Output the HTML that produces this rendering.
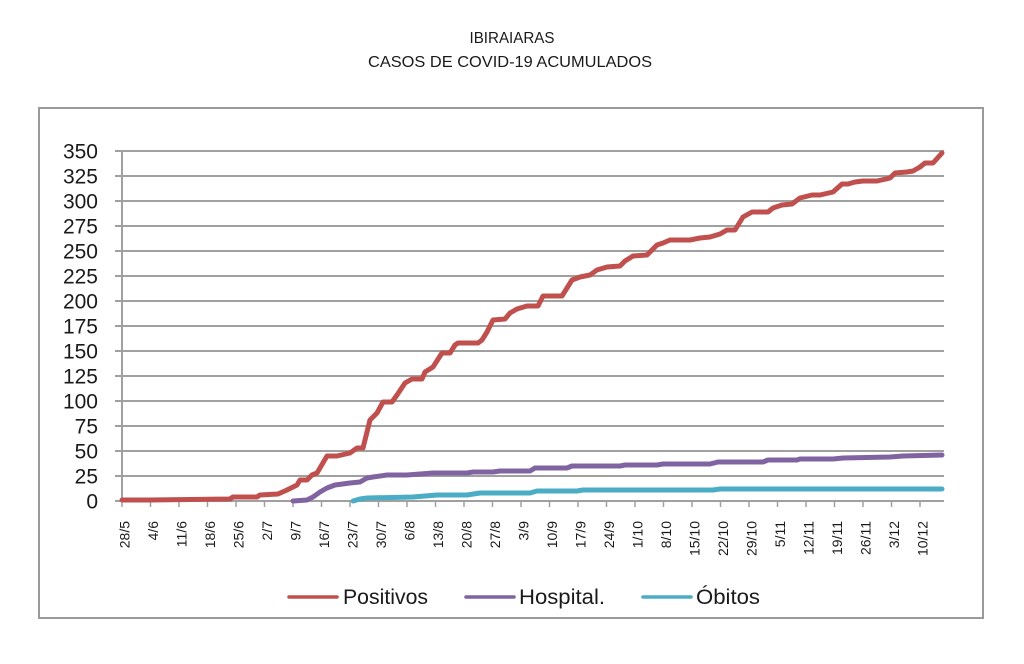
<!DOCTYPE html>
<html><head><meta charset="utf-8"><style>
html,body{margin:0;padding:0;background:#fff;}
svg{display:block;}
text{font-family:"Liberation Sans",sans-serif;fill:#1a1a1a;}
</style></head><body>
<svg width="1024" height="664" viewBox="0 0 1024 664" xmlns="http://www.w3.org/2000/svg">
<rect x="0" y="0" width="1024" height="664" fill="#fff"/>
<text x="512" y="43" font-size="15.5" text-anchor="middle" textLength="85" lengthAdjust="spacingAndGlyphs">IBIRAIARAS</text>
<text x="510" y="67" font-size="16" text-anchor="middle" textLength="284" lengthAdjust="spacingAndGlyphs">CASOS DE COVID-19 ACUMULADOS</text>
<rect x="39" y="108" width="944" height="510" fill="none" stroke="#9a9a9a" stroke-width="2"/>
<g stroke="#a0a0a0" stroke-width="2" fill="none">
<line x1="115" y1="151" x2="944" y2="151"/>
<line x1="115" y1="176" x2="944" y2="176"/>
<line x1="115" y1="201" x2="944" y2="201"/>
<line x1="115" y1="226" x2="944" y2="226"/>
<line x1="115" y1="251" x2="944" y2="251"/>
<line x1="115" y1="276" x2="944" y2="276"/>
<line x1="115" y1="301" x2="944" y2="301"/>
<line x1="115" y1="326" x2="944" y2="326"/>
<line x1="115" y1="351" x2="944" y2="351"/>
<line x1="115" y1="376" x2="944" y2="376"/>
<line x1="115" y1="401" x2="944" y2="401"/>
<line x1="115" y1="426" x2="944" y2="426"/>
<line x1="115" y1="451" x2="944" y2="451"/>
<line x1="115" y1="476" x2="944" y2="476"/>
<line x1="115" y1="501" x2="944" y2="501"/>
<line x1="122" y1="151" x2="122" y2="501"/>
</g>
<g font-size="21" text-anchor="end">
<text x="98" y="158.5">350</text>
<text x="98" y="183.5">325</text>
<text x="98" y="208.5">300</text>
<text x="98" y="233.5">275</text>
<text x="98" y="258.5">250</text>
<text x="98" y="283.5">225</text>
<text x="98" y="308.5">200</text>
<text x="98" y="333.5">175</text>
<text x="98" y="358.5">150</text>
<text x="98" y="383.5">125</text>
<text x="98" y="408.5">100</text>
<text x="98" y="433.5">75</text>
<text x="98" y="458.5">50</text>
<text x="98" y="483.5">25</text>
<text x="98" y="508.5">0</text>
</g>
<g stroke="#a0a0a0" stroke-width="1.5">
<line x1="122" y1="501" x2="122" y2="507"/><line x1="150.5" y1="501" x2="150.5" y2="507"/><line x1="179" y1="501" x2="179" y2="507"/><line x1="207.5" y1="501" x2="207.5" y2="507"/><line x1="236" y1="501" x2="236" y2="507"/><line x1="264.5" y1="501" x2="264.5" y2="507"/><line x1="293" y1="501" x2="293" y2="507"/><line x1="321.5" y1="501" x2="321.5" y2="507"/><line x1="350" y1="501" x2="350" y2="507"/><line x1="378.5" y1="501" x2="378.5" y2="507"/><line x1="407" y1="501" x2="407" y2="507"/><line x1="435.5" y1="501" x2="435.5" y2="507"/><line x1="464" y1="501" x2="464" y2="507"/><line x1="492.5" y1="501" x2="492.5" y2="507"/><line x1="521" y1="501" x2="521" y2="507"/><line x1="549.5" y1="501" x2="549.5" y2="507"/><line x1="578" y1="501" x2="578" y2="507"/><line x1="606.5" y1="501" x2="606.5" y2="507"/><line x1="635" y1="501" x2="635" y2="507"/><line x1="663.5" y1="501" x2="663.5" y2="507"/><line x1="692" y1="501" x2="692" y2="507"/><line x1="720.5" y1="501" x2="720.5" y2="507"/><line x1="749" y1="501" x2="749" y2="507"/><line x1="777.5" y1="501" x2="777.5" y2="507"/><line x1="806" y1="501" x2="806" y2="507"/><line x1="834.5" y1="501" x2="834.5" y2="507"/><line x1="863" y1="501" x2="863" y2="507"/><line x1="891.5" y1="501" x2="891.5" y2="507"/><line x1="920" y1="501" x2="920" y2="507"/>
</g>
<g font-size="14" text-anchor="end">
<text transform="translate(129.5,521) rotate(-90)">28/5</text>
<text transform="translate(158,521) rotate(-90)">4/6</text>
<text transform="translate(186.5,521) rotate(-90)">11/6</text>
<text transform="translate(215,521) rotate(-90)">18/6</text>
<text transform="translate(243.5,521) rotate(-90)">25/6</text>
<text transform="translate(272,521) rotate(-90)">2/7</text>
<text transform="translate(300.5,521) rotate(-90)">9/7</text>
<text transform="translate(329,521) rotate(-90)">16/7</text>
<text transform="translate(357.5,521) rotate(-90)">23/7</text>
<text transform="translate(386,521) rotate(-90)">30/7</text>
<text transform="translate(414.5,521) rotate(-90)">6/8</text>
<text transform="translate(443,521) rotate(-90)">13/8</text>
<text transform="translate(471.5,521) rotate(-90)">20/8</text>
<text transform="translate(500,521) rotate(-90)">27/8</text>
<text transform="translate(528.5,521) rotate(-90)">3/9</text>
<text transform="translate(557,521) rotate(-90)">10/9</text>
<text transform="translate(585.5,521) rotate(-90)">17/9</text>
<text transform="translate(614,521) rotate(-90)">24/9</text>
<text transform="translate(642.5,521) rotate(-90)">1/10</text>
<text transform="translate(671,521) rotate(-90)">8/10</text>
<text transform="translate(699.5,521) rotate(-90)">15/10</text>
<text transform="translate(728,521) rotate(-90)">22/10</text>
<text transform="translate(756.5,521) rotate(-90)">29/10</text>
<text transform="translate(785,521) rotate(-90)">5/11</text>
<text transform="translate(813.5,521) rotate(-90)">12/11</text>
<text transform="translate(842,521) rotate(-90)">19/11</text>
<text transform="translate(870.5,521) rotate(-90)">26/11</text>
<text transform="translate(899,521) rotate(-90)">3/12</text>
<text transform="translate(927.5,521) rotate(-90)">10/12</text>
</g>
<g fill="none" stroke-width="5" stroke-linejoin="round" stroke-linecap="round">
<polyline stroke="#4BACC6" points="353,501 360,499 367,498 413,497 437,495 467,495 480,493 530,493 537,491 577,491 583,490 713,490 720,489 942,489"/>
<polyline stroke="#8064A2" points="293,501 307,500 313,497 320,492 327,488 335,485 350,483 360,482 367,478 373,477 387,475 407,475 433,473 467,473 473,472 493,472 500,471 530,471 535,468 567,468 572,466 620,466 625,465 657,465 663,464 710,464 718,462 763,462 768,460 797,460 800,459 833,459 843,458 890,457 903,456 942,455"/>
<polyline stroke="#C0504D" points="122,500 150,500 230,499 233,497 257,497 260,495 278,494 287,490 297,485 300,480 307,480 312,475 317,473 327,456 337,456 350,453 357,448 363,448 370,420 377,413 383,402 392,402 397,395 405,383 412,379 422,379 425,372 433,367 442,353 450,353 455,345 458,343 478,343 482,340 487,332 493,320 505,319 510,313 517,309 527,306 538,306 543,296 562,296 572,280 580,277 590,275 597,270 607,267 620,266 625,261 633,256 647,255 657,245 663,243 670,240 690,240 700,238 710,237 720,234 727,230 735,230 743,217 752,212 768,212 773,208 782,205 792,204 800,198 812,195 820,195 833,192 842,184 848,184 855,182 863,181 877,181 890,178 895,173 907,172 913,171 920,167 925,163 933,163 942,153"/>
</g>
<g stroke-width="3.5" stroke-linecap="round">
<line x1="289" y1="597" x2="337" y2="597" stroke="#C0504D"/>
<line x1="466" y1="597" x2="514" y2="597" stroke="#8064A2"/>
<line x1="643" y1="597" x2="691" y2="597" stroke="#4BACC6"/>
</g>
<g font-size="21">
<text x="343" y="604" textLength="85" lengthAdjust="spacingAndGlyphs">Positivos</text>
<text x="519" y="604" textLength="86" lengthAdjust="spacingAndGlyphs">Hospital.</text>
<text x="696" y="604" textLength="64" lengthAdjust="spacingAndGlyphs">Óbitos</text>
</g>
</svg>
</body></html>
